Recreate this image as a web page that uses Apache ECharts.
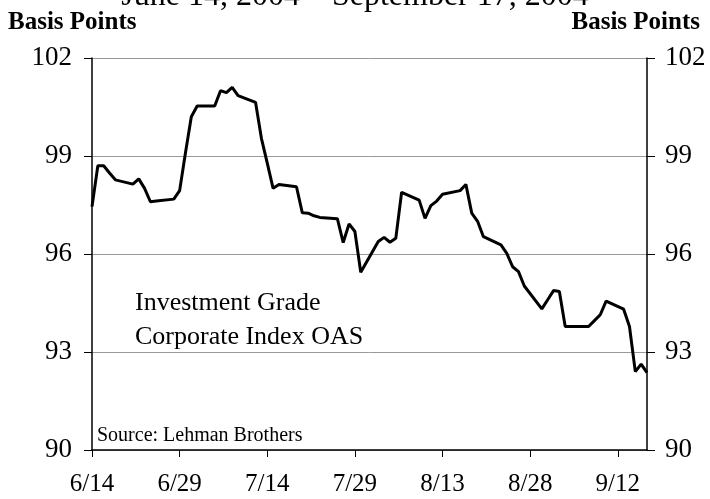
<!DOCTYPE html>
<html>
<head>
<meta charset="utf-8">
<script src="https://cdn.jsdelivr.net/npm/echarts@6/dist/echarts.min.js"></script>
<style>
  html, body { margin: 0; padding: 0; background: #fff; }
  #chart { width: 710px; height: 499px; }
</style>
</head>
<body>
<div id="chart"></div>
<script>
// trading days, 2004
const dates = [
  '6/14', '6/15', '6/16', '6/17', '6/18', '6/21', '6/22', '6/23', '6/24', '6/25',
  '6/28', '6/29', '6/30', '7/1', '7/2', '7/5', '7/6', '7/7', '7/8', '7/9',
  '7/12', '7/13', '7/14', '7/15', '7/16', '7/19', '7/20', '7/21', '7/22', '7/23',
  '7/26', '7/27', '7/28', '7/29', '7/30', '8/2', '8/3', '8/4', '8/5', '8/6',
  '8/9', '8/10', '8/11', '8/12', '8/13', '8/16', '8/17', '8/18', '8/19', '8/20',
  '8/23', '8/24', '8/25', '8/26', '8/27', '8/30', '8/31', '9/1', '9/2', '9/3',
  '9/6', '9/7', '9/8', '9/9', '9/10', '9/13', '9/14', '9/15', '9/16', '9/17'
];
// Investment Grade Corporate Index OAS, basis points
const oas = [
  97.45, 98.70, 98.70, 98.48, 98.27, 98.14, 98.30, 98.01, 97.60, 97.62,
  97.68, 97.94, 99.10, 100.20, 100.53, 100.53, 101.00, 100.94, 101.10, 100.85,
  100.64, 99.54, 98.78, 98.01, 98.13, 98.06, 97.26, 97.25, 97.17, 97.12,
  97.08, 96.35, 96.92, 96.69, 95.44, 96.38, 96.51, 96.36, 96.48, 97.89,
  97.65, 97.09, 97.48, 97.62, 97.83, 97.94, 98.13, 97.25, 97.00, 96.53,
  96.28, 96.02, 95.61, 95.46, 95.02, 94.32, 94.60, 94.88, 94.85, 93.78,
  93.78, 93.78, 93.96, 94.14, 94.56, 94.31, 93.78, 92.40, 92.63, 92.37
];
const xTicks = ['6/14', '6/29', '7/14', '7/29', '8/13', '8/28', '9/12'];
const yMin = 90, yMax = 102, yStep = 3;

const DAY = 86400000;
const start = Date.UTC(2004, 5, 14);
const dayOf = (s) => {
  const [m, d] = s.split('/').map(Number);
  return Math.round((Date.UTC(2004, m - 1, d) - start) / DAY);
};
const labelOf = (n) => {
  const t = new Date(start + n * DAY);
  return (t.getUTCMonth() + 1) + '/' + t.getUTCDate();
};
const endDay = dayOf('9/17');
const tickDays = xTicks.map(dayOf);

const serif = '"Liberation Serif", "Times New Roman", serif';

const yAxisBase = {
  type: 'value',
  min: yMin,
  max: yMax,
  interval: yStep,
  axisLine: { show: true, lineStyle: { color: '#000', width: 1.5 } },
  axisTick: { show: true, inside: false, length: 8, lineStyle: { color: '#000', width: 1 } },
  axisLabel: { color: '#000', fontFamily: serif, fontSize: 27 }
};

const chart = echarts.init(document.getElementById('chart'));
chart.setOption({
  animation: false,
  grid: { left: 92, right: 63, top: 58, bottom: 49 },
  xAxis: {
    type: 'value',
    min: 0,
    max: endDay,
    interval: 15,
    axisLine: { lineStyle: { color: '#000', width: 1.5 } },
    axisTick: { show: true, length: 7, lineStyle: { color: '#000' } },
    splitLine: { show: false },
    axisLabel: {
      color: '#000',
      fontFamily: serif,
      fontSize: 25,
      margin: 22,
      showMaxLabel: false,
      formatter: (v) => (tickDays.includes(v) ? labelOf(v) : '')
    }
  },
  yAxis: [
    Object.assign({}, yAxisBase, {
      position: 'left',
      splitLine: { show: true, lineStyle: { color: '#999', width: 1 } },
      axisLabel: Object.assign({}, yAxisBase.axisLabel, { margin: 20 })
    }),
    Object.assign({}, yAxisBase, {
      position: 'right',
      splitLine: { show: false },
      axisLabel: Object.assign({}, yAxisBase.axisLabel, { margin: 18 })
    })
  ],
  series: [{
    type: 'line',
    data: dates.map((d, i) => [dayOf(d), oas[i]]),
    showSymbol: false,
    lineStyle: { color: '#000', width: 3 },
    z: 5
  }],
  graphic: [
    {
      type: 'text', left: 'center', top: -19,
      style: { text: 'June 14, 2004 \u2013 September 17, 2004', font: '32px ' + serif, fill: '#000' }
    },
    {
      type: 'text', left: 8, top: 10,
      style: { text: 'Basis Points', font: 'bold 25px ' + serif, fill: '#000' }
    },
    {
      type: 'text', right: 10, top: 10,
      style: { text: 'Basis Points', font: 'bold 25px ' + serif, fill: '#000' }
    },
    {
      type: 'text', left: 135, top: 286,
      style: { text: 'Investment Grade\nCorporate Index OAS', font: '26px ' + serif, lineHeight: 34, fill: '#000' }
    },
    {
      type: 'text', left: 97, top: 426,
      style: { text: 'Source: Lehman Brothers', font: '20px ' + serif, fill: '#000' }
    }
  ]
});
</script>
</body>
</html>
